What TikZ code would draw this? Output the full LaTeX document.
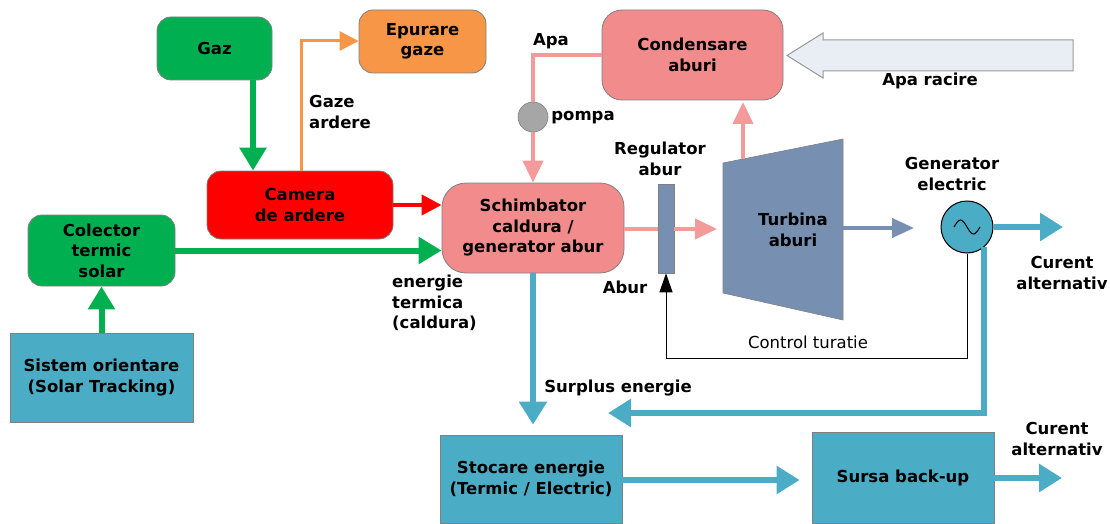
\documentclass[tikz,border=0pt]{standalone}
\usepackage{fontspec}
\setmainfont{DejaVu Sans}
\usetikzlibrary{arrows.meta}
\definecolor{cgreen}{HTML}{00B050}
\definecolor{corange}{HTML}{F79646}
\definecolor{cred}{HTML}{FF0000}
\definecolor{cpink}{HTML}{F28B8B}
\definecolor{cpinkline}{HTML}{F49A9A}
\definecolor{cblue}{HTML}{4BACC6}
\definecolor{csteel}{HTML}{7790B1}
\definecolor{cborder}{HTML}{808080}
\definecolor{cpale}{HTML}{E9EDF4}
\definecolor{cpump}{HTML}{A6A6A6}
\newcommand\dfont{\fontsize{16.5}{20.5}\selectfont}
\tikzset{
  box/.style={draw=cborder, line width=0.8pt, rounded corners=14pt, align=center, font=\bfseries\dfont, inner sep=1pt, text=black},
  sqbox/.style={box, rounded corners=0pt},
  lbl/.style={font=\bfseries\dfont, align=center, inner sep=0pt},
  garrow/.style={draw=cgreen, line width=6pt, -{Triangle[width=26pt,length=23pt]}},
  rarrow/.style={draw=cred, line width=4pt, -{Triangle[width=20pt,length=20pt]}},
  oarrow/.style={draw=corange, line width=3pt, -{Triangle[width=19pt,length=19pt]}},
  parrow/.style={draw=cpinkline, line width=4pt, -{Triangle[width=20pt,length=22pt]}},
  pline/.style={draw=cpinkline, line width=4pt},
  barrow/.style={draw=cblue, line width=6pt, -{Triangle[width=27pt,length=23pt]}},
  bline/.style={draw=cblue, line width=6pt},
  sarrow/.style={draw=csteel, line width=4pt, -{Triangle[width=19pt,length=22pt]}},
  karrow/.style={draw=black, line width=1pt, -{Triangle[width=13pt,length=19pt]}}
}
\begin{document}
\begin{tikzpicture}[x=1pt,y=-1pt]
\useasboundingbox (0,0) rectangle (1110,524);

% boxes
\node[box, fill=cgreen, minimum width=115pt, minimum height=63pt] (gaz) at (214.5,48.5) {Gaz};
\node[box, fill=corange, minimum width=127pt, minimum height=63pt] (epur) at (422.5,41.5) {Epurare\\gaze};
\node[box, fill=cred, minimum width=186pt, minimum height=68pt] (cam) at (300,205) {Camera\\de ardere};
\node[box, fill=cgreen, minimum width=147pt, minimum height=71pt] (col) at (101.5,250.5) {Colector\\termic\\solar};
\node[sqbox, fill=cblue, minimum width=183pt, minimum height=89pt] (sis) at (101.5,377.5) {Sistem orientare\\(Solar Tracking)};
\node[box, fill=cpink, rounded corners=24pt, minimum width=182pt, minimum height=90pt] (sch) at (533,228) {Schimbator\\caldura /\\generator abur};
\node[box, fill=cpink, rounded corners=20pt, minimum width=181pt, minimum height=90pt] (cond) at (692.5,55) {Condensare\\aburi};
\node[sqbox, fill=cblue, minimum width=182pt, minimum height=88pt] (stoc) at (531,479) {Stocare energie\\(Termic / Electric)};
\node[sqbox, fill=cblue, minimum width=182pt, minimum height=91pt] (surs) at (903,477.5) {Sursa back-up};
\node[draw=cborder, line width=0.6pt, fill=csteel, minimum width=16pt, minimum height=89pt, inner sep=0pt] (reg) at (666,228.5) {};
\node[circle, draw=cborder, line width=0.6pt, fill=cpump, minimum size=30pt, inner sep=0pt] (pompa) at (533,117) {};
\node[circle, draw=black, line width=1pt, fill=cblue, minimum size=52pt, inner sep=0pt] (gen) at (967,227) {};
\draw[line width=1pt] (gen.center) ++(-13,0) sin ++(6.5,-7) cos ++(6.5,7) sin ++(6.5,7) cos ++(6.5,-7);

% turbine
\coordinate (t1) at (723,163);
\coordinate (t2) at (843,139);
\coordinate (t3) at (843,320);
\coordinate (t4) at (723,293);
\draw[draw=cborder, line width=0.6pt, fill=csteel] (t1) -- (t2) -- (t3) -- (t4) -- cycle;
\node[lbl] (turb) at (793,230) {Turbina\\aburi};

% cooling water arrow
\draw[draw=cborder!80, line width=1pt, fill=cpale] (1073,40) -- (823,40) -- (823,33) -- (787,55.5) -- (823,78) -- (823,71) -- (1073,71) -- cycle;
\node[lbl] (racire) at (930,81) {Apa racire};

% connectors
\draw[garrow] (gaz.south -| 253,0) -- (cam.north -| 253,0);
\coordinate (ecorner) at (301,41);
\draw[oarrow] (cam.north -| ecorner) -- (ecorner) -- (epur.west |- ecorner);
\draw[rarrow] (cam.east) -- (sch.west |- cam.east);
\draw[garrow] (col.east) -- (sch.west |- col.east);
\draw[garrow] (sis.north) -- (col.south);

\draw[pline] (cond.west) -| (pompa.north);
\draw[parrow] (pompa.south) -- (sch.north);
\coordinate (tout) at (743,159);
\draw[parrow] (tout) -- (743,102);
\coordinate (treg) at (717,229);
\draw[pline] (sch.east |- treg) -- (reg.west |- treg);
\draw[parrow] (reg.east |- treg) -- (treg);
\coordinate (tgen) at (914,228);
\draw[sarrow] (t2 |- tgen) -- (tgen);
\coordinate (curout) at (1063,227);
\draw[barrow] (gen.east) -- (curout);
\coordinate (ret) at (608,413);
\draw[barrow] (gen.-50) |- (ret);
\draw[karrow] (gen.south) -- (967,358) -| (reg.south);
\draw[barrow, shorten >=10pt] (sch.south) -- (sch.south |- stoc.north);
\draw[barrow, shorten >=12pt] (stoc.east |- 0,480) -- (surs.west |- 0,480);
\coordinate (curout2) at (1062,478);
\draw[barrow] (surs.east |- curout2) -- (curout2);

% labels
\node[lbl] (lapa) at (551,41) {Apa};
\node[lbl] (lpompa) at (583,118) {pompa};
\node[lbl, anchor=west, align=left] (lgaze) at (309,112) {Gaze\\ardere};
\node[lbl, anchor=west, align=left] (lenerg) at (392,303) {energie\\termica\\(caldura)};
\node[lbl] (lreg) at (660,159) {Regulator\\abur};
\node[lbl] (labur) at (625,287) {Abur};
\node[lbl] (lgen) at (952,174) {Generator\\electric};
\node[lbl] (lcur1) at (1062,273) {Curent\\alternativ};
\node[lbl] (lcur2) at (1057,439) {Curent\\alternativ};
\node[lbl] (lsur) at (618,388) {Surplus energie};
\node[font=\dfont, inner sep=0pt] (lctrl) at (808,342) {Control turatie};
\end{tikzpicture}
\end{document}
